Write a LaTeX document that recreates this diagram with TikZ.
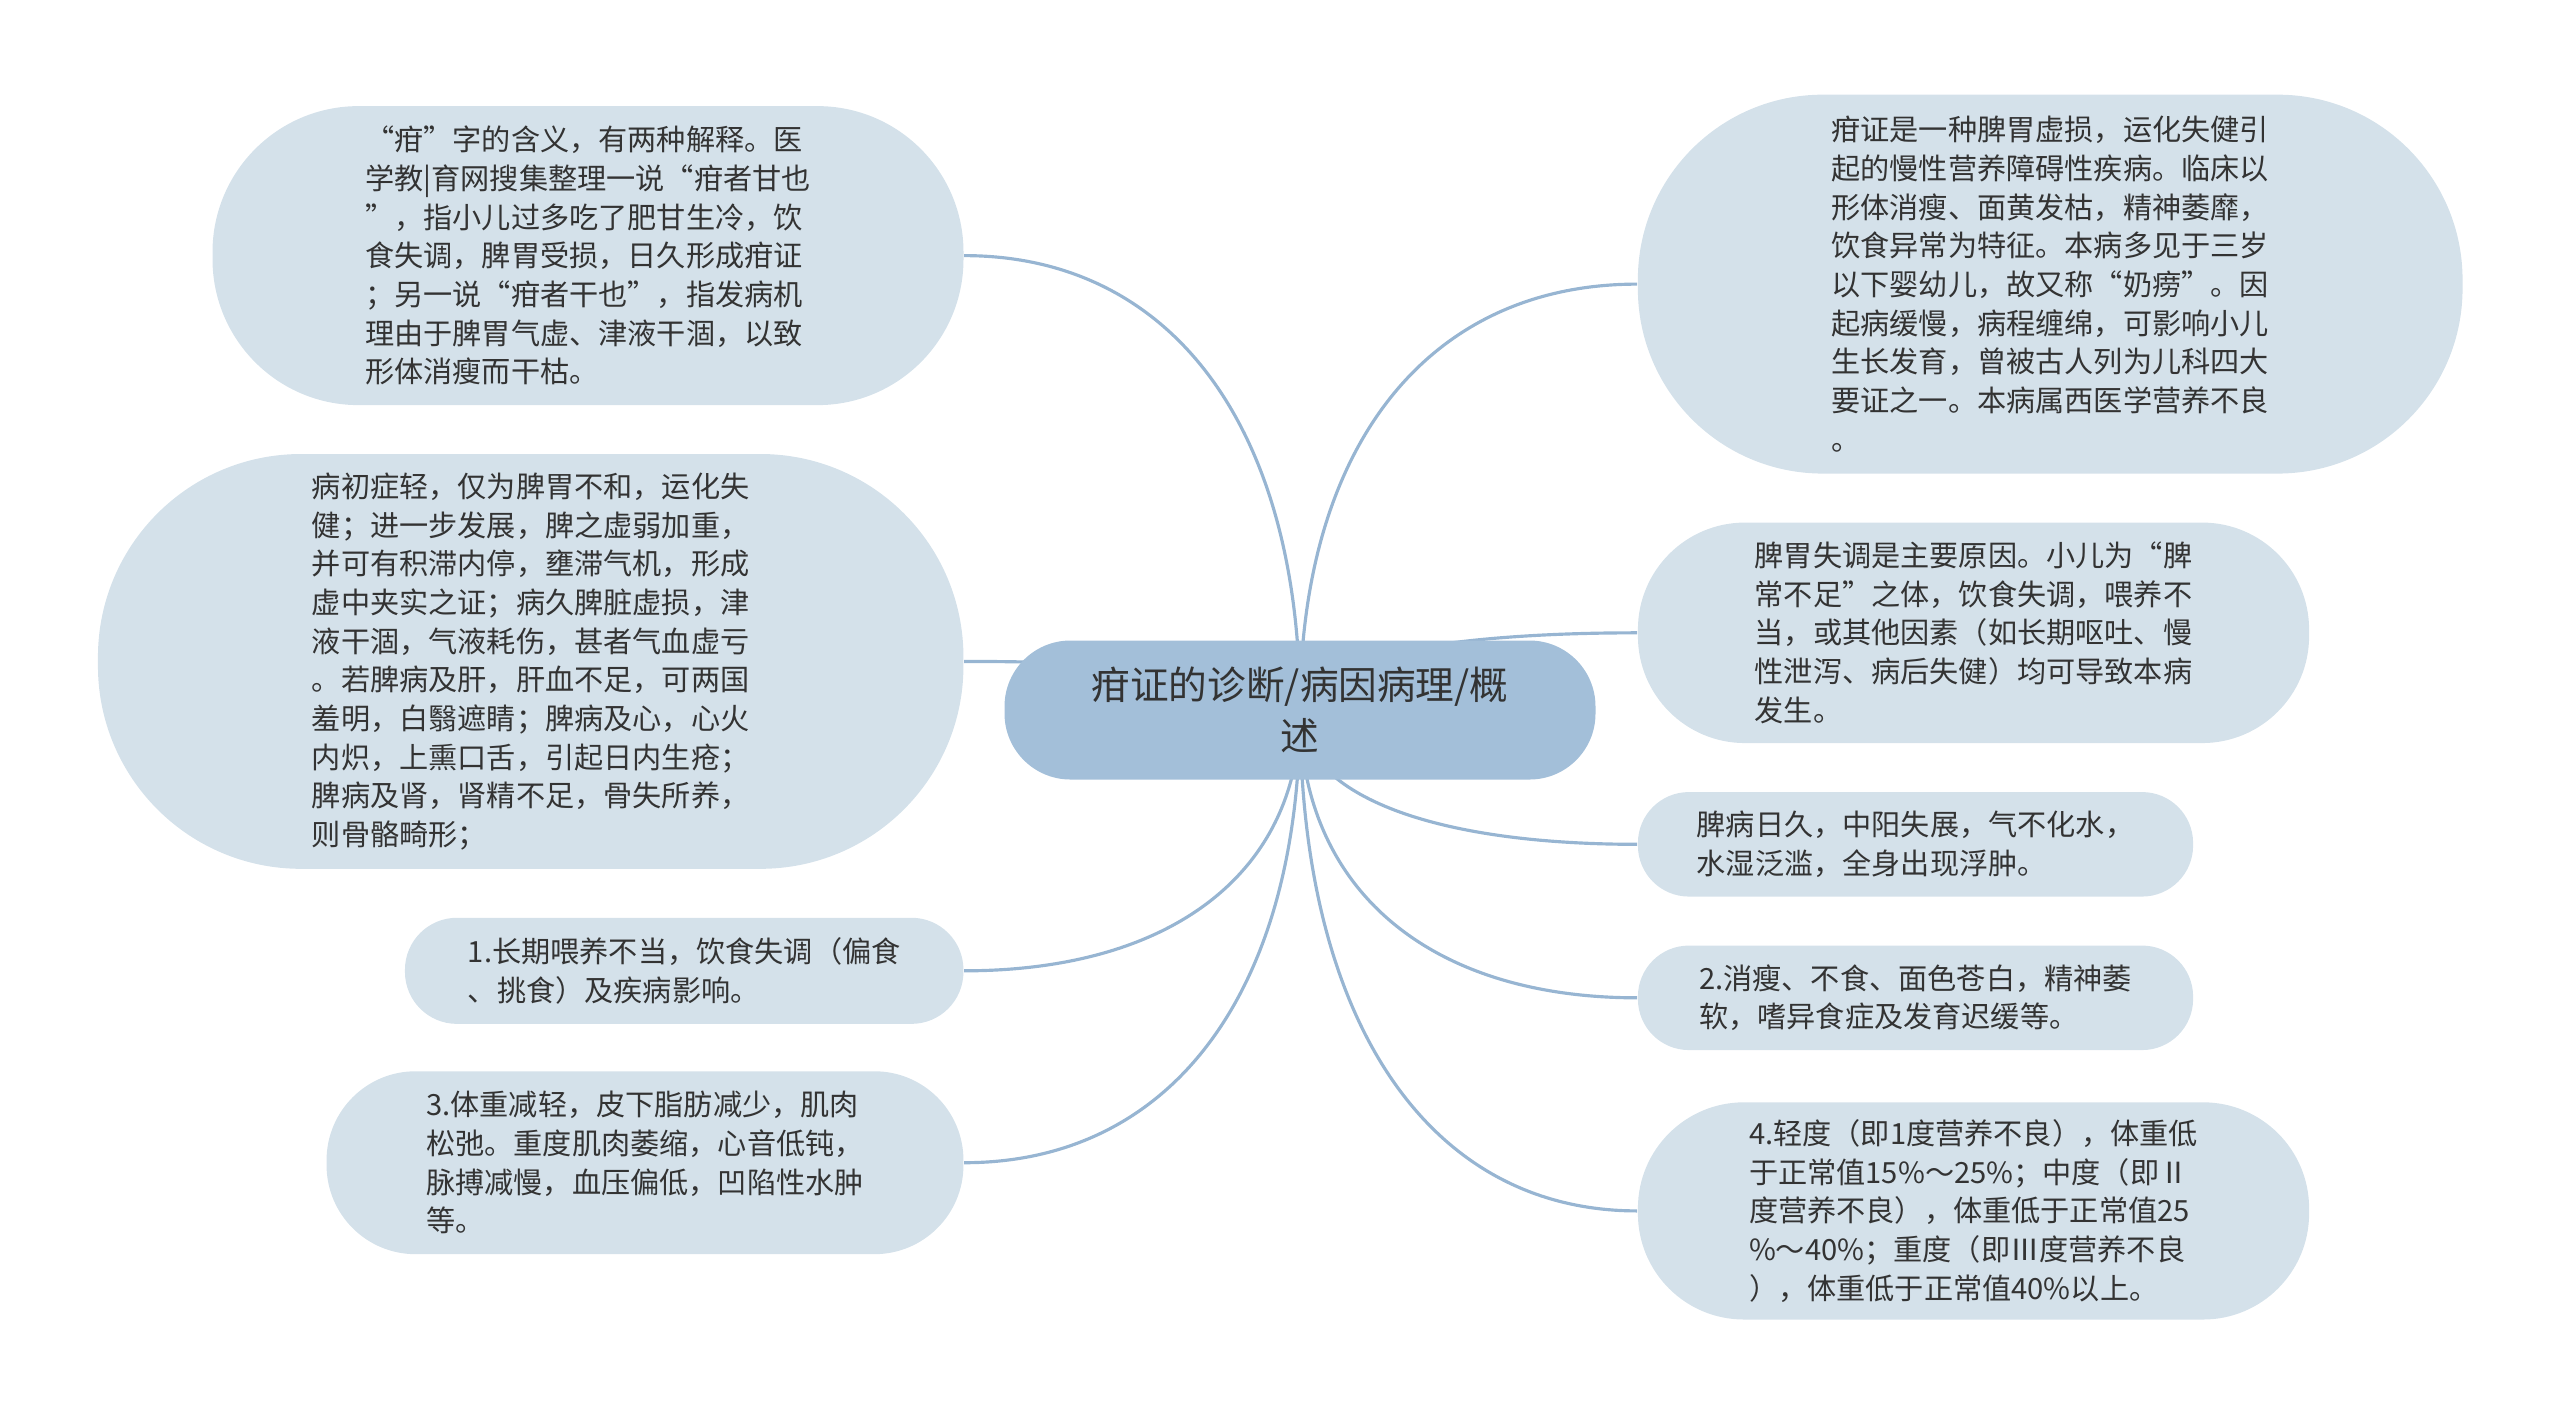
\documentclass[tikz,border=0pt]{standalone}
\usepackage{fontspec}
\usepackage{xcolor}
\usepackage{tikz}
\usetikzlibrary{calc}
\newfontfamily\cjk{Noto Sans CJK SC}
\pgfdeclarelayer{edgelayer}
\pgfdeclarelayer{nodelayer}
\pgfsetlayers{edgelayer,nodelayer,main}
\definecolor{hubblue}{HTML}{A3BFD9}
\definecolor{leafgrey}{HTML}{D4E1EA}
\definecolor{linkblue}{HTML}{97B5D2}
\definecolor{inkgrey}{HTML}{333333}
\tikzstyle{hub}=[shape=rectangle,fill=hubblue,text=inkgrey,align=center,inner sep=0pt,font=\cjk\fontsize{11}{14.4}\selectfont]
\tikzstyle{leaf}=[shape=rectangle,fill=leafgrey,text=inkgrey,align=left,inner sep=0pt,font=\cjk\fontsize{8.3}{11}\selectfont]
\tikzstyle{link}=[draw=linkblue,line width=0.9pt]
\newcommand{\branch}[1]{\draw[style=link] (core.center) .. controls ($(core.center)!0.62!(core.center|-#1)$) and ($(#1)!0.62!(core.center|-#1)$) .. (#1);}

\begin{document}
\begin{tikzpicture}
	\useasboundingbox (0, 0) rectangle (25.6, -14.19);
	\begin{pgfonlayer}{nodelayer}
		\node [style=hub, minimum width=5.91cm, minimum height=1.39cm, rounded corners=0.66cm] (core) at (13.0, -7.1) {疳证的诊断/病因病理/概\\述};
		% left side
		\node [style=leaf, minimum width=7.51cm, minimum height=2.99cm, rounded corners=1.46cm] (l1) at (5.88, -2.556) {“疳”字的含义，有两种解释。医\\学教|育网搜集整理一说“疳者甘也\\”，指小儿过多吃了肥甘生冷，饮\\食失调，脾胃受损，日久形成疳证\\；另一说“疳者干也”，指发病机\\理由于脾胃气虚、津液干涸，以致\\形体消瘦而干枯。};
		\node [style=leaf, minimum width=8.655cm, minimum height=4.148cm, rounded corners=2.03cm] (l2) at (5.307, -6.614) {病初症轻，仅为脾胃不和，运化失\\健；进一步发展，脾之虚弱加重，\\并可有积滞内停，壅滞气机，形成\\虚中夹实之证；病久脾脏虚损，津\\液干涸，气液耗伤，甚者气血虚亏\\。若脾病及肝，肝血不足，可两国\\羞明，白翳遮睛；脾病及心，心火\\内炽，上熏口舌，引起日内生疮；\\脾病及肾，肾精不足，骨失所养，\\则骨骼畸形；};
		\node [style=leaf, minimum width=5.585cm, minimum height=1.061cm, rounded corners=0.52cm] (l3) at (6.842, -9.708) {1.长期喂养不当，饮食失调（偏食\\、挑食）及疾病影响。};
		\node [style=leaf, minimum width=6.369cm, minimum height=1.829cm, rounded corners=0.89cm] (l4) at (6.45, -11.627) {3.体重减轻，皮下脂肪减少，肌肉\\松弛。重度肌肉萎缩，心音低钝，\\脉搏减慢，血压偏低，凹陷性水肿\\等。};
		% right side
		\node [style=leaf, minimum width=8.247cm, minimum height=3.789cm, rounded corners=1.85cm] (r1) at (20.502, -2.841) {疳证是一种脾胃虚损，运化失健引\\起的慢性营养障碍性疾病。临床以\\形体消瘦、面黄发枯，精神萎靡，\\饮食异常为特征。本病多见于三岁\\以下婴幼儿，故又称“奶痨”。因\\起病缓慢，病程缠绵，可影响小儿\\生长发育，曾被古人列为儿科四大\\要证之一。本病属西医学营养不良\\。};
		\node [style=leaf, minimum width=6.712cm, minimum height=2.205cm, rounded corners=1.07cm] (r2) at (19.735, -6.328) {脾胃失调是主要原因。小儿为“脾\\常不足”之体，饮食失调，喂养不\\当，或其他因素（如长期呕吐、慢\\性泄泻、病后失健）均可导致本病\\发生。};
		\node [style=leaf, minimum width=5.552cm, minimum height=1.045cm, rounded corners=0.51cm] (r3) at (19.155, -8.443) {脾病日久，中阳失展，气不化水，\\水湿泛滥，全身出现浮肿。};
		\node [style=leaf, minimum width=5.552cm, minimum height=1.045cm, rounded corners=0.51cm] (r4) at (19.155, -9.978) {2.消瘦、不食、面色苍白，精神萎\\软，嗜异食症及发育迟缓等。};
		\node [style=leaf, minimum width=6.712cm, minimum height=2.172cm, rounded corners=1.06cm] (r5) at (19.735, -12.109) {4.轻度（即1度营养不良），体重低\\于正常值15\%～25\%；中度（即Ⅱ\\度营养不良），体重低于正常值25\\\%～40\%；重度（即Ⅲ度营养不良\\），体重低于正常值40\%以上。};
	\end{pgfonlayer}
	\begin{pgfonlayer}{edgelayer}
		\branch{l1.east}
		\branch{l2.east}
		\branch{l3.east}
		\branch{l4.east}
		\branch{r1.west}
		\branch{r2.west}
		\branch{r3.west}
		\branch{r4.west}
		\branch{r5.west}
	\end{pgfonlayer}
\end{tikzpicture}
\end{document}
